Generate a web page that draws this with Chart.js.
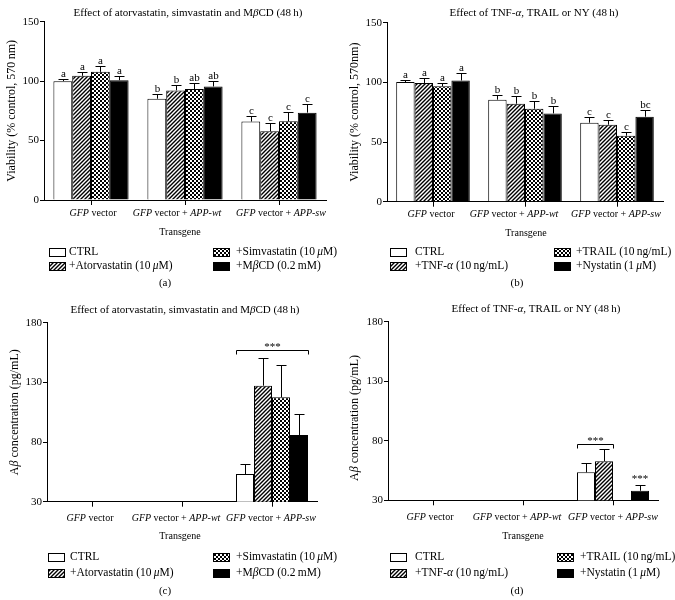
<!DOCTYPE html>
<html>
<head>
<meta charset="utf-8">
<script src="https://cdn.jsdelivr.net/npm/chart.js@4.4.1/dist/chart.umd.min.js"></script>
<style>
  html, body { margin: 0; padding: 0; background: #fff; }
  #wrap { position: relative; width: 675px; height: 600px; }
  canvas { position: absolute; }
</style>
</head>
<body>
<div id="wrap">
  <canvas id="pa" width="345" height="300" style="left:0;top:0"></canvas>
  <canvas id="pb" width="338" height="300" style="left:337px;top:0"></canvas>
  <canvas id="pc" width="345" height="300" style="left:0;top:300px"></canvas>
  <canvas id="pd" width="338" height="300" style="left:337px;top:300px"></canvas>
</div>
<script>
// text between underscores is drawn in italics
const groupLabels = ['_GFP_ vector', '_GFP_ vector + _APP-wt_', '_GFP_ vector + _APP-sw_'];
const statinNames = ['CTRL', '+Atorvastatin (10\u2009_\u03bc_M)', '+Simvastatin (10\u2009_\u03bc_M)', '+M_\u03b2_CD (0.2\u2009mM)'];
const cytoNames = ['CTRL', '+TNF-_\u03b1_ (10\u2009ng/mL)', '+TRAIL (10\u2009ng/mL)', '+Nystatin (1\u2009_\u03bc_M)'];

// (a) viability, statins / MbCD: CTRL, atorvastatin, simvastatin, MbCD
const viaStatinMean = [[100, 85.2, 66], [104.5, 92.2, 57.8], [107.8, 93.3, 66.2], [100.8, 95.5, 73.5]];
const viaStatinErr = [[2, 4.2, 5], [3.5, 4.8, 7.3], [5.1, 5.3, 8.1], [3.4, 4.8, 7.2]];
const viaStatinLetters = [['a', 'b', 'c'], ['a', 'b', 'c'], ['a', 'ab', 'c'], ['a', 'ab', 'c']];

// (b) viability, TNF-a / TRAIL / nystatin
const viaCytoMean = [[100.3, 85.5, 66.2], [99.5, 82.1, 64.5], [96.7, 77.9, 55.3], [101.6, 74, 71.2]];
const viaCytoErr = [[2, 3.9, 5], [3.9, 6.7, 3.7], [2.8, 6.2, 2.8], [6.4, 6.4, 5.4]];
const viaCytoLetters = [['a', 'b', 'c'], ['a', 'b', 'c'], ['a', 'b', 'c'], ['a', 'b', 'bc']];

// (c) Abeta, statins / MbCD
const abStatinMean = [[30, 30, 53.2], [30, 30, 127.2], [30, 30, 117.5], [30, 30, 85.9]];
const abStatinErr = [[0, 0, 8.4], [0, 0, 23.5], [0, 0, 27], [0, 0, 18]];

// (d) Abeta, TNF-a / TRAIL / nystatin
const abCytoMean = [[30, 30, 53.5], [30, 30, 62.8], [30, 30, 30], [30, 30, 38]];
const abCytoErr = [[0, 0, 8.1], [0, 0, 10], [0, 0, 0], [0, 0, 4.8]];

const FAM = '"Liberation Serif", "DejaVu Serif", "Times New Roman", serif';
function font(sz, it) { return (it ? 'italic ' : '') + sz + 'px ' + FAM; }

function drawRich(g, str, x, y, align, sz) {
  const parts = str.split('_').map((t, k) => ({ t, it: k % 2 === 1 }));
  let w = 0;
  parts.forEach(p => { g.font = font(sz, p.it); p.w = g.measureText(p.t).width; w += p.w; });
  let cx = align === 'center' ? x - w / 2 : (align === 'right' ? x - w : x);
  g.textAlign = 'left';
  parts.forEach(p => { g.font = font(sz, p.it); g.fillText(p.t, cx, y); cx += p.w; });
}

function hatchPattern(g) {
  const c = document.createElement('canvas');
  c.width = c.height = 4;
  const h = c.getContext('2d');
  h.fillStyle = '#fff'; h.fillRect(0, 0, 4, 4);
  h.strokeStyle = '#000'; h.lineWidth = 1.4;
  h.beginPath();
  h.moveTo(-1, 5); h.lineTo(5, -1);
  h.moveTo(-1, 1); h.lineTo(1, -1);
  h.moveTo(3, 5); h.lineTo(5, 3);
  h.stroke();
  return g.createPattern(c, 'repeat');
}

function checkerPattern(g) {
  const c = document.createElement('canvas');
  c.width = c.height = 4;
  const h = c.getContext('2d');
  h.fillStyle = '#fff'; h.fillRect(0, 0, 4, 4);
  h.fillStyle = '#000'; h.fillRect(0, 0, 2, 2); h.fillRect(2, 2, 2, 2);
  return g.createPattern(c, 'repeat');
}

function panel(id, o) {
  const canvas = document.getElementById(id);
  const g0 = canvas.getContext('2d');
  const fills = ['#ffffff', hatchPattern(g0), checkerPattern(g0), '#000000'];
  const L = o.lay;

  const decor = {
    id: 'decor' + id,
    afterDatasetsDraw(chart) {
      const g = chart.ctx, ys = chart.scales.y;
      g.save();
      g.strokeStyle = '#000'; g.fillStyle = '#000'; g.lineWidth = 1;
      g.textBaseline = 'alphabetic';
      o.means.forEach((m, d) => {
        const meta = chart.getDatasetMeta(d);
        m.forEach((v, i) => {
          const e = o.errs[d][i];
          if (!e) return;
          const bar = meta.data[i];
          const x = Math.round(bar.x) + 0.5;
          const y0 = ys.getPixelForValue(v);
          const y1 = Math.round(ys.getPixelForValue(v + e)) + 0.5;
          g.beginPath();
          g.moveTo(x, y0); g.lineTo(x, y1);
          g.moveTo(x - 5, y1); g.lineTo(x + 5, y1);
          g.stroke();
          if (o.letters) {
            g.font = font(11);
            g.textAlign = 'center';
            g.fillText(o.letters[d][i], x, y1 - 3);
          }
        });
      });
      (o.brackets || []).forEach(b => {
        const m1 = chart.getDatasetMeta(b.from).data[b.group];
        const m2 = chart.getDatasetMeta(b.to).data[b.group];
        const x1 = Math.round(m1.x - m1.width / 2) + 0.5;
        const x2 = Math.round(m2.x + m2.width / 2) + 0.5;
        const y = Math.round(ys.getPixelForValue(b.value)) + 0.5;
        g.beginPath();
        g.moveTo(x1, y + 4); g.lineTo(x1, y); g.lineTo(x2, y); g.lineTo(x2, y + 4);
        g.stroke();
        g.font = font(11); g.textAlign = 'center';
        g.fillText('***', (x1 + x2) / 2, y - 1);
      });
      (o.stars || []).forEach(s => {
        const bar = chart.getDatasetMeta(s.ds).data[s.group];
        g.font = font(11); g.textAlign = 'center';
        g.fillText('***', bar.x, ys.getPixelForValue(s.value) + 2);
      });
      g.restore();
    },
    afterDraw(chart) {
      const g = chart.ctx, ca = chart.chartArea;
      g.save();
      g.fillStyle = '#000'; g.strokeStyle = '#000'; g.lineWidth = 1;
      g.textBaseline = 'middle';
      drawRich(g, o.title, L.titleX, L.titleY, 'center', 11);
      groupLabels.forEach((lab, i) => drawRich(g, lab, L.labX[i], L.tickY, 'center', 10));
      drawRich(g, 'Transgene', L.transX, L.transY, 'center', 10);
      o.names.forEach((n, k) => {
        const col = Math.floor(k / 2), row = k % 2;
        const y = L.legY[row];
        g.fillStyle = fills[k];
        g.fillRect(L.legX[col] + 0.5, Math.round(y - 4) + 0.5, 16, 8);
        g.strokeRect(L.legX[col] + 0.5, Math.round(y - 4) + 0.5, 16, 8);
        g.fillStyle = '#000';
        drawRich(g, n, L.legTx[col], y, 'left', 11.5);
      });
      drawRich(g, o.letter, L.letterX, L.letterY, 'center', 11);
      g.translate(L.yTitleX, (ca.top + ca.bottom) / 2 + (L.yTitleDy || 0));
      g.rotate(-Math.PI / 2);
      drawRich(g, o.yTitle, 0, 0, 'center', 12);
      g.restore();
    }
  };

  new Chart(canvas, {
    type: 'bar',
    data: {
      labels: groupLabels,
      datasets: o.means.map((m, d) => ({
        label: o.names[d],
        data: m,
        backgroundColor: fills[d],
        borderColor: '#000',
        borderWidth: 1,
        barPercentage: 1,
        categoryPercentage: 0.8
      }))
    },
    options: {
      responsive: false,
      animation: false,
      events: [],
      layout: { padding: { top: L.top, right: L.right, left: 0, bottom: 0 } },
      plugins: { legend: { display: false }, tooltip: { enabled: false }, title: { display: false } },
      scales: {
        x: {
          grid: { display: true, drawOnChartArea: false, offset: false, tickLength: 5, color: '#000' },
          border: { color: '#000', width: 1 },
          ticks: { display: false },
          afterFit(s) { s.height = L.bottom; s.paddingLeft = 0; s.paddingRight = 0; }
        },
        y: {
          min: o.yMin, max: o.yMax,
          ticks: { stepSize: 50, color: '#000', font: { family: FAM, size: 11 }, padding: 1 },
          grid: { drawOnChartArea: false, tickLength: 4, color: '#000' },
          border: { color: '#000', width: 1 },
          afterFit(s) { s.width = L.left; s.paddingTop = 0; s.paddingBottom = 0; }
        }
      }
    },
    plugins: [decor]
  });
}

panel('pa', {
  title: 'Effect of atorvastatin, simvastatin and M_\u03b2_CD (48\u2009h)',
  yTitle: 'Viability (% control, 570\u2009nm)', letter: '(a)',
  names: statinNames, means: viaStatinMean, errs: viaStatinErr, letters: viaStatinLetters,
  yMin: 0, yMax: 150,
  lay: { left: 44, top: 21.7, right: 19, bottom: 100, titleX: 188, titleY: 13, tickY: 213,
         labX: [93, 177, 281], transX: 180, transY: 232, legY: [252, 266], legX: [49, 213], legTx: [69, 236],
         letterX: 165, letterY: 283, yTitleX: 12 }
});

panel('pb', {
  title: 'Effect of TNF-_\u03b1_, TRAIL or NY (48\u2009h)',
  yTitle: 'Viability (% control, 570nm)', letter: '(b)',
  names: cytoNames, means: viaCytoMean, errs: viaCytoErr, letters: viaCytoLetters,
  yMin: 0, yMax: 150,
  lay: { left: 50, top: 22.7, right: 12, bottom: 98.3, titleX: 197, titleY: 13, tickY: 214,
         labX: [94, 177, 279], transX: 189, transY: 233, legY: [252, 266], legX: [53, 217], legTx: [78, 239],
         letterX: 180, letterY: 283, yTitleX: 18 }
});

panel('pc', {
  title: 'Effect of atorvastatin, simvastatin and M_\u03b2_CD (48\u2009h)',
  yTitle: 'A_\u03b2_ concentration (pg/mL)', letter: '(c)',
  names: statinNames, means: abStatinMean, errs: abStatinErr,
  brackets: [{ group: 2, from: 0, to: 3, value: 157 }],
  yMin: 30, yMax: 180,
  lay: { left: 47, top: 22.7, right: 28, bottom: 98.3, titleX: 185, titleY: 10, tickY: 218,
         labX: [90, 176, 271], transX: 180, transY: 236, legY: [257, 273], legX: [48, 213], legTx: [70, 236],
         letterX: 165, letterY: 291, yTitleX: 15 }
});

panel('pd', {
  title: 'Effect of TNF-_\u03b1_, TRAIL or NY (48\u2009h)',
  yTitle: 'A_\u03b2_ concentration (pg/mL)', letter: '(d)',
  names: cytoNames, means: abCytoMean, errs: abCytoErr,
  brackets: [{ group: 2, from: 0, to: 1, value: 77.5 }],
  stars: [{ group: 2, ds: 3, value: 47 }],
  yMin: 30, yMax: 180,
  lay: { left: 51, top: 21.7, right: 17, bottom: 99.7, titleX: 199, titleY: 9, tickY: 217,
         labX: [93, 180, 276], transX: 186, transY: 236, legY: [257, 273], legX: [53, 220], legTx: [78, 243],
         letterX: 180, letterY: 291, yTitleX: 18, yTitleDy: 7 }
});
</script>
</body>
</html>
